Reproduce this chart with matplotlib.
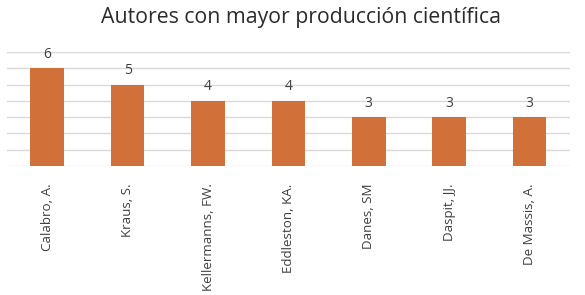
import matplotlib.pyplot as plt

autores = ['Calabro, A.', 'Kraus, S.', 'Kellermanns, FW.', 'Eddleston, KA.',
           'Danes, SM', 'Daspit, JJ.', 'De Massis, A.']
publicaciones = [6, 5, 4, 4, 3, 3, 3]

plt.rcParams['font.family'] = ['Open Sans', 'DejaVu Sans']

fig = plt.figure(figsize=(5.85, 2.95), dpi=100)
ax = fig.add_axes([0.012, 0.437, 0.962, 0.387])

bars = ax.bar(range(len(autores)), publicaciones, width=0.42, color='#D2703A', zorder=3)
for i, v in enumerate(publicaciones):
    ax.text(i, v + 0.4, str(v), ha='center', va='bottom', fontsize=10, color='#404040')

ax.set_ylim(0, 7)
ax.set_xlim(-0.5, len(autores) - 0.5)
ax.set_yticks(range(0, 8))
ax.yaxis.grid(True, color='#D9D9D9', linewidth=1, zorder=0)
ax.tick_params(axis='y', left=False, labelleft=False)
ax.tick_params(axis='x', bottom=False, pad=9)
ax.set_xticks(range(len(autores)))
ax.set_xticklabels(autores, rotation=90, fontsize=9.6, color='#404040')
for s in ax.spines.values():
    s.set_visible(False)

fig.text(0.515, 0.94, 'Autores con mayor producción científica', ha='center', va='center',
         fontsize=15.3, color='#2b2b2b')

fig.savefig('out.png', dpi=100)
